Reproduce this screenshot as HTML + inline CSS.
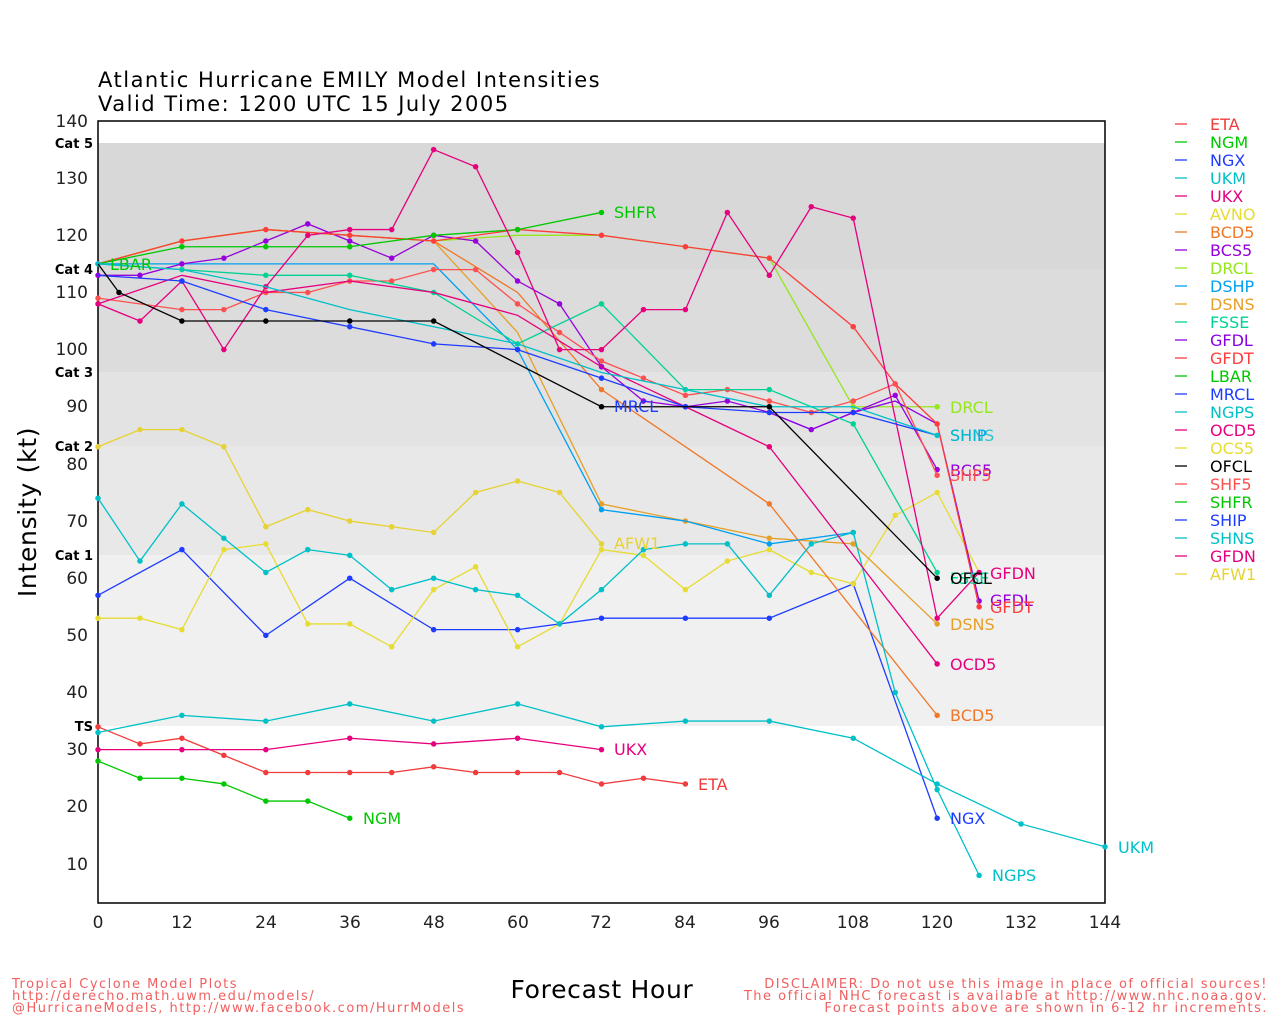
<!DOCTYPE html>
<html><head><meta charset="utf-8"><style>
html,body{margin:0;padding:0;background:#fff;}
svg{display:block;font-family:"DejaVu Sans","Liberation Sans",sans-serif;}
.s polyline{fill:none;stroke-width:1.3;vector-effect:non-scaling-stroke;}
.s path{fill:none;stroke-width:5.5;stroke-linecap:round;vector-effect:non-scaling-stroke;}
</style></head><body>
<svg width="1280" height="1024" xmlns="http://www.w3.org/2000/svg">
<rect width="1280" height="1024" fill="#fff"/>
<rect x="98" y="143" width="1007" height="126" fill="#d8d8d8"/>
<rect x="98" y="269" width="1007" height="103" fill="#dcdcdc"/>
<rect x="98" y="372" width="1007" height="74" fill="#e3e3e3"/>
<rect x="98" y="446" width="1007" height="109" fill="#e8e8e8"/>
<rect x="98" y="555" width="1007" height="171" fill="#f0f0f0"/>
<rect x="98" y="121" width="1007" height="782" fill="none" stroke="#000" stroke-width="1.5"/>
<g font-size="21" fill="#000" letter-spacing="1.5">
<text x="98" y="87">Atlantic Hurricane EMILY Model Intensities</text>
<text x="98" y="111">Valid Time: 1200 UTC 15 July 2005</text>
</g>
<g font-size="17" text-anchor="end" fill="#222">
<text x="88" y="127">140</text><text x="88" y="184">130</text><text x="88" y="241">120</text>
<text x="88" y="298">110</text><text x="88" y="355">100</text><text x="88" y="412">90</text>
<text x="88" y="470">80</text><text x="88" y="527">70</text><text x="88" y="584">60</text>
<text x="88" y="641">50</text><text x="88" y="698">40</text><text x="88" y="755">30</text>
<text x="88" y="812">20</text><text x="88" y="870">10</text>
</g>
<g font-size="13" font-weight="bold" text-anchor="end">
<text x="93" y="148">Cat 5</text><text x="93" y="274">Cat 4</text><text x="93" y="377">Cat 3</text>
<text x="93" y="451">Cat 2</text><text x="93" y="560">Cat 1</text><text x="93" y="731">TS</text>
</g>
<g font-size="17" text-anchor="middle" fill="#222">
<text x="98" y="928">0</text><text x="182" y="928">12</text><text x="266" y="928">24</text>
<text x="350" y="928">36</text><text x="434" y="928">48</text><text x="518" y="928">60</text>
<text x="601" y="928">72</text><text x="685" y="928">84</text><text x="769" y="928">96</text>
<text x="853" y="928">108</text><text x="937" y="928">120</text><text x="1021" y="928">132</text>
<text x="1105" y="928">144</text>
</g>
<text x="602" y="998" font-size="25" text-anchor="middle" letter-spacing="0.7">Forecast Hour</text>
<text transform="translate(36,512) rotate(-90)" font-size="25" text-anchor="middle" letter-spacing="0.7">Intensity (kt)</text>
<g font-size="13" fill="#f06060" letter-spacing="1.5">
<text x="12" y="988">Tropical Cyclone Model Plots</text>
<text x="12" y="1000">http://derecho.math.uwm.edu/models/</text>
<text x="12" y="1012">@HurricaneModels, http://www.facebook.com/HurrModels</text>
<g text-anchor="end">
<text x="1268" y="988">DISCLAIMER: Do not use this image in place of official sources!</text>
<text x="1268" y="1000">The official NHC forecast is available at http://www.nhc.noaa.gov.</text>
<text x="1268" y="1012">Forecast points above are shown in 6-12 hr increments.</text>
</g></g>
<g class="s" transform="matrix(6.993,0,0,-5.715,98,921.1)">
<g stroke="#f03c3c"><polyline points="0,34 6,31 12,32 18,29 24,26 30,26 36,26 42,26 48,27 54,26 60,26 66,26 72,24 78,25 84,24"/><path d="M0,34h0M6,31h0M12,32h0M18,29h0M24,26h0M30,26h0M36,26h0M42,26h0M48,27h0M54,26h0M60,26h0M66,26h0M72,24h0M78,25h0M84,24h0"/></g>
<g stroke="#00c800"><polyline points="0,28 6,25 12,25 18,24 24,21 30,21 36,18"/><path d="M0,28h0M6,25h0M12,25h0M18,24h0M24,21h0M30,21h0M36,18h0"/></g>
<g stroke="#1e3cff"><polyline points="0,57 12,65 24,50 36,60 48,51 60,51 72,53 84,53 96,53 108,59 120,18"/><path d="M0,57h0M12,65h0M24,50h0M36,60h0M48,51h0M60,51h0M72,53h0M84,53h0M96,53h0M108,59h0M120,18h0"/></g>
<g stroke="#00c0c8"><polyline points="0,33 12,36 24,35 36,38 48,35 60,38 72,34 84,35 96,35 108,32 120,24 132,17 144,13"/><path d="M0,33h0M12,36h0M24,35h0M36,38h0M48,35h0M60,38h0M72,34h0M84,35h0M96,35h0M108,32h0M120,24h0M132,17h0M144,13h0"/></g>
<g stroke="#e6007e"><polyline points="0,30 12,30 24,30 36,32 48,31 60,32 72,30"/><path d="M0,30h0M12,30h0M24,30h0M36,32h0M48,31h0M60,32h0M72,30h0"/></g>
<g stroke="#e6dc32"><polyline points="0,53 6,53 12,51 18,65 24,66 30,52 36,52 42,48 48,58 54,62 60,48 66,52 72,65 78,64 84,58 90,63 96,65 102,61 108,59 114,71 120,75 126,61"/><path d="M0,53h0M6,53h0M12,51h0M18,65h0M24,66h0M30,52h0M36,52h0M42,48h0M48,58h0M54,62h0M60,48h0M66,52h0M72,65h0M78,64h0M84,58h0M90,63h0M96,65h0M102,61h0M108,59h0M114,71h0M120,75h0"/></g>
<g stroke="#e6d232"><polyline points="0,83 6,86 12,86 18,83 24,69 30,72 36,70 42,69 48,68 54,75 60,77 66,75 72,66"/><path d="M0,83h0M6,86h0M12,86h0M18,83h0M24,69h0M30,72h0M36,70h0M42,69h0M48,68h0M54,75h0M60,77h0M66,75h0M72,66h0"/></g>
<g stroke="#f07828"><polyline points="0,115 12,119 24,121 36,120 48,119 60,110 72,93 96,73 120,36"/><path d="M72,93h0M96,73h0M120,36h0"/></g>
<g stroke="#e6a028"><polyline points="0,115 12,119 24,121 36,120 48,119 60,103 72,73 84,70 96,67 108,66 120,52"/><path d="M72,73h0M84,70h0M96,67h0M108,66h0M120,52h0"/></g>
<g stroke="#00a0f0"><polyline points="0,115 12,115 24,115 36,115 48,115 60,100 72,72 84,70 96,66 108,68"/><path d="M72,72h0M96,66h0M108,68h0"/></g>
<g stroke="#96e61e"><polyline points="0,115 12,119 24,121 36,120 48,119 60,120 72,120 84,118 96,116 108,90 120,90"/><path d="M108,90h0M120,90h0"/></g>
<g stroke="#9600dc"><polyline points="0,113 6,113 12,115 18,116 24,119 30,122 36,119 42,116 48,120 54,119 60,112 66,108 72,97 78,91 84,90 90,91 96,89 102,86 108,89 114,92 120,79"/><path d="M0,113h0M6,113h0M12,115h0M18,116h0M24,119h0M30,122h0M36,119h0M42,116h0M48,120h0M54,119h0M60,112h0M66,108h0M72,97h0M78,91h0M84,90h0M90,91h0M96,89h0M102,86h0M108,89h0M114,92h0M120,79h0"/></g>
<g stroke="#8c00e6"><polyline points="96,89 102,86 108,89 114,91 120,87 126,56"/><path d="M126,56h0"/></g>
<g stroke="#ff3c3c"><polyline points="0,115 12,119 24,121 36,120 48,119 60,121 72,120 84,118 96,116 108,104 114,94 120,87 126,55"/><path d="M0,115h0M12,119h0M24,121h0M36,120h0M48,119h0M60,121h0M72,120h0M84,118h0M96,116h0M108,104h0M114,94h0M120,87h0M126,55h0"/></g>
<g stroke="#ff5050"><polyline points="0,109 12,107 18,107 24,110 30,110 36,112 42,112 48,114 54,114 60,108 66,103 72,98 78,95 84,92 90,93 96,91 102,89 108,91 114,94 120,78"/><path d="M0,109h0M12,107h0M18,107h0M24,110h0M30,110h0M36,112h0M42,112h0M48,114h0M54,114h0M60,108h0M66,103h0M72,98h0M78,95h0M84,92h0M90,93h0M96,91h0M102,89h0M108,91h0M114,94h0M120,78h0"/></g>
<g stroke="#00c800"><polyline points="0,115 12,118 24,118 36,118 48,120 60,121 72,124"/><path d="M12,118h0M24,118h0M36,118h0M48,120h0M60,121h0M72,124h0"/></g>
<g stroke="#00d296"><polyline points="0,115 12,114 24,113 36,113 48,110 60,101 72,108 84,93 96,93 108,87 120,61"/><path d="M12,114h0M24,113h0M36,113h0M48,110h0M60,101h0M72,108h0M84,93h0M96,93h0M108,87h0M120,61h0"/></g>
<g stroke="#00c0c8"><polyline points="0,74 6,63 12,73 18,67 24,61 30,65 36,64 42,58 48,60 54,58 60,57 66,52 72,58 78,65 84,66 90,66 96,57 102,66 108,68 114,40 120,23 126,8"/><path d="M0,74h0M6,63h0M12,73h0M18,67h0M24,61h0M30,65h0M36,64h0M42,58h0M48,60h0M54,58h0M60,57h0M66,52h0M72,58h0M78,65h0M84,66h0M90,66h0M96,57h0M102,66h0M108,68h0M114,40h0M120,23h0M126,8h0"/></g>
<g stroke="#e6007e"><polyline points="0,108 6,105 12,112 18,100 24,111 30,120 36,121 42,121 48,135 54,132 60,117 66,100 72,100 78,107 84,107 90,124 96,113 102,125 108,123 120,53 126,61"/><path d="M0,108h0M6,105h0M12,112h0M18,100h0M24,111h0M30,120h0M36,121h0M42,121h0M48,135h0M54,132h0M60,117h0M66,100h0M72,100h0M78,107h0M84,107h0M90,124h0M96,113h0M102,125h0M108,123h0M120,53h0M126,61h0"/></g>
<g stroke="#e6007e"><polyline points="0,108 12,113 24,110 36,112 48,110 60,106 72,97 84,90 96,83 120,45"/><path d="M96,83h0M120,45h0"/></g>
<g stroke="#1e3cff"><polyline points="0,113 12,112 24,107 36,104 48,101 60,100 72,95 84,90 96,89 108,89 120,85"/><path d="M12,112h0M24,107h0M36,104h0M48,101h0M60,100h0M72,95h0M84,90h0M96,89h0M108,89h0"/></g>
<g stroke="#00c0c8"><polyline points="0,115 12,114 24,111 36,107 48,104 60,101 72,96 84,93 96,90 108,90 120,85"/><path d="M0,115h0M120,85h0"/></g>
<g stroke="#000"><polyline points="0,115 3,110 12,105 24,105 36,105 48,105 72,90 96,90 120,60"/><path d="M3,110h0M12,105h0M24,105h0M36,105h0M48,105h0M72,90h0M96,90h0M120,60h0"/></g>
</g>
<g font-size="16">
<text x="698" y="790" fill="#f03c3c">ETA</text>
<text x="363" y="824" fill="#00c800">NGM</text>
<text x="950" y="824" fill="#1e3cff">NGX</text>
<text x="1118" y="853" fill="#00c0c8">UKM</text>
<text x="614" y="755" fill="#e6007e">UKX</text>
<text x="614" y="549" fill="#e6d232">AFW1</text>
<text x="614" y="218" fill="#00c800">SHFR</text>
<text x="110" y="270" fill="#00c800">LBAR</text>
<text x="614" y="412" fill="#1e3cff">MRCL</text>
<text x="950" y="413" fill="#96e61e">DRCL</text>
<text x="950" y="441" fill="#00a0f0">SHIP</text>
<text x="950" y="441" fill="#00c0c8" opacity="0.8">SHNS</text>
<text x="950" y="476" fill="#9600dc">BCS5</text>
<text x="950" y="481" fill="#ff5050">SHF5</text>
<text x="950" y="584" fill="#00d296">FSSE</text>
<text x="950" y="584" fill="#000">OFCL</text>
<text x="990" y="579" fill="#e6007e">GFDN</text>
<text x="990" y="606" fill="#9600dc">GFDL</text>
<text x="990" y="613" fill="#ff3c3c">GFDT</text>
<text x="950" y="630" fill="#e6a028">DSNS</text>
<text x="950" y="670" fill="#e6007e">OCD5</text>
<text x="950" y="721" fill="#f07828">BCD5</text>
<text x="992" y="881" fill="#00c0c8">NGPS</text>
</g>
<g font-size="16" stroke-width="1.3">
<line x1="1175" x2="1187" y1="124" y2="124" stroke="#f03c3c"/><text x="1210" y="130" fill="#f03c3c">ETA</text>
<line x1="1175" x2="1187" y1="142" y2="142" stroke="#00c800"/><text x="1210" y="148" fill="#00c800">NGM</text>
<line x1="1175" x2="1187" y1="160" y2="160" stroke="#1e3cff"/><text x="1210" y="166" fill="#1e3cff">NGX</text>
<line x1="1175" x2="1187" y1="178" y2="178" stroke="#00c0c8"/><text x="1210" y="184" fill="#00c0c8">UKM</text>
<line x1="1175" x2="1187" y1="196" y2="196" stroke="#e6007e"/><text x="1210" y="202" fill="#e6007e">UKX</text>
<line x1="1175" x2="1187" y1="214" y2="214" stroke="#e6dc32"/><text x="1210" y="220" fill="#e6dc32">AVNO</text>
<line x1="1175" x2="1187" y1="232" y2="232" stroke="#f07828"/><text x="1210" y="238" fill="#f07828">BCD5</text>
<line x1="1175" x2="1187" y1="250" y2="250" stroke="#9600dc"/><text x="1210" y="256" fill="#9600dc">BCS5</text>
<line x1="1175" x2="1187" y1="268" y2="268" stroke="#96e61e"/><text x="1210" y="274" fill="#96e61e">DRCL</text>
<line x1="1175" x2="1187" y1="286" y2="286" stroke="#00a0f0"/><text x="1210" y="292" fill="#00a0f0">DSHP</text>
<line x1="1175" x2="1187" y1="304" y2="304" stroke="#e6a028"/><text x="1210" y="310" fill="#e6a028">DSNS</text>
<line x1="1175" x2="1187" y1="322" y2="322" stroke="#00d296"/><text x="1210" y="328" fill="#00d296">FSSE</text>
<line x1="1175" x2="1187" y1="340" y2="340" stroke="#8c00e6"/><text x="1210" y="346" fill="#8c00e6">GFDL</text>
<line x1="1175" x2="1187" y1="358" y2="358" stroke="#ff3c3c"/><text x="1210" y="364" fill="#ff3c3c">GFDT</text>
<line x1="1175" x2="1187" y1="376" y2="376" stroke="#00c800"/><text x="1210" y="382" fill="#00c800">LBAR</text>
<line x1="1175" x2="1187" y1="394" y2="394" stroke="#1e3cff"/><text x="1210" y="400" fill="#1e3cff">MRCL</text>
<line x1="1175" x2="1187" y1="412" y2="412" stroke="#00c0c8"/><text x="1210" y="418" fill="#00c0c8">NGPS</text>
<line x1="1175" x2="1187" y1="430" y2="430" stroke="#e6007e"/><text x="1210" y="436" fill="#e6007e">OCD5</text>
<line x1="1175" x2="1187" y1="448" y2="448" stroke="#e6dc32"/><text x="1210" y="454" fill="#e6dc32">OCS5</text>
<line x1="1175" x2="1187" y1="466" y2="466" stroke="#000"/><text x="1210" y="472" fill="#000">OFCL</text>
<line x1="1175" x2="1187" y1="484" y2="484" stroke="#ff5050"/><text x="1210" y="490" fill="#ff5050">SHF5</text>
<line x1="1175" x2="1187" y1="502" y2="502" stroke="#00c800"/><text x="1210" y="508" fill="#00c800">SHFR</text>
<line x1="1175" x2="1187" y1="520" y2="520" stroke="#1e3cff"/><text x="1210" y="526" fill="#1e3cff">SHIP</text>
<line x1="1175" x2="1187" y1="538" y2="538" stroke="#00c0c8"/><text x="1210" y="544" fill="#00c0c8">SHNS</text>
<line x1="1175" x2="1187" y1="556" y2="556" stroke="#e6007e"/><text x="1210" y="562" fill="#e6007e">GFDN</text>
<line x1="1175" x2="1187" y1="574" y2="574" stroke="#e6d232"/><text x="1210" y="580" fill="#e6d232">AFW1</text>
</g>
</svg>
</body></html>
